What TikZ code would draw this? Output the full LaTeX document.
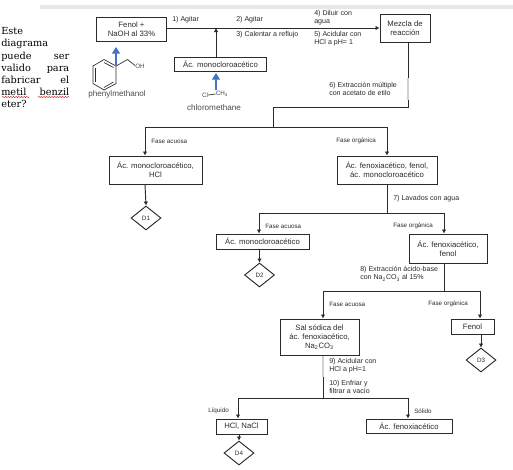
\documentclass[tikz,border=0pt]{standalone}
\usepackage{fontspec}
\setmainfont{Liberation Sans}
\newfontfamily\slabfont{DejaVu Serif}
\usetikzlibrary{arrows.meta,shapes.geometric,decorations.pathmorphing,calc}
\definecolor{ink}{HTML}{2B2B2B}
\definecolor{bluearrow}{HTML}{4472C4}
\newcommand{\boxfont}{\fontsize{5.8}{6.8}\selectfont}
\newcommand{\labfont}{\fontsize{5.3}{6.1}\selectfont}
\newcommand{\tinyfont}{\fontsize{4.7}{5.5}\selectfont}
\newcommand{\chemfont}{\fontsize{6.1}{7}\selectfont}
\tikzset{
  x=0.75pt,y=-0.75pt,
  procbox/.style={draw=ink,line width=0.75pt,fill=white,text=ink,font=\boxfont,align=center,inner sep=0pt},
  dia/.style={draw=ink,line width=0.7pt,fill=white,text=ink,font=\tinyfont,diamond,aspect=1.25,inner sep=0pt,minimum width=22.5pt,minimum height=18pt},
  lab/.style={anchor=west,align=left,inner sep=0pt,text=ink,font=\labfont},
  tinylab/.style={anchor=west,align=left,inner sep=0pt,text=ink,font=\tinyfont},
  chem/.style={anchor=center,inner sep=0pt,text=ink!85,font=\chemfont},
  wire/.style={draw=ink,line width=0.7pt},
  faded/.style={draw=black!18,line width=0.8pt},
  arr/.style={wire,-{Latex[length=3pt,width=3.4pt]}},
  bluearr/.style={draw=bluearrow,line width=1pt,-{Triangle[length=5pt,width=6pt]}},
  bond/.style={draw=ink,line width=0.5pt},
  wavy/.style={draw=red!80!black,line width=0.3pt,decorate,decoration={snake,amplitude=0.4pt,segment length=2pt}}
}
\begin{document}
\begin{tikzpicture}
\useasboundingbox (0,0) rectangle (513,469);
\fill[white] (0,0) rectangle (513,469);
% scan shadow at the top
\fill[black!9] (40,5) rectangle (513,9);
% boxes
\node[procbox,minimum width=53pt,minimum height=18pt] (fenol) at (131.5,29) {Fenol +\\NaOH al 33\%};
\node[procbox,minimum width=37.5pt,minimum height=21pt] (mezcla) at (405,28) {Mezcla de\\reacción};
\node[procbox,minimum width=69pt,minimum height=10.5pt] (acmono) at (220.5,64) {Ác. monocloroacético};
\node[procbox,minimum width=69.75pt,minimum height=21pt] (acl) at (155.5,170) {Ác. monocloroacético,\\HCl};
\node[procbox,minimum width=75pt,minimum height=21pt] (acr) at (387,170) {Ác. fenoxiacético, fenol,\\ác. monocloroacético};
\node[dia] (d1) at (146,218) {D1};
\node[procbox,minimum width=69.75pt,minimum height=11.25pt] (acm2) at (262.5,241.5) {Ác. monocloroacético};
\node[dia] (d2) at (259.5,275) {D2};
\node[procbox,minimum width=58.5pt,minimum height=21.75pt] (acf) at (448,248.5) {Ác. fenoxiacético,\\fenol};
\node[procbox,minimum width=59.25pt,minimum height=27pt] (sal) at (319.5,337) {Sal sódica del\\ác. fenoxiacético,\\Na\textsubscript{2}CO\textsubscript{3}};
\node[procbox,minimum width=32.25pt,minimum height=11.25pt] (fenolb) at (472.5,326.5) {Fenol};
\node[dia] (d3) at (481,360) {D3};
\node[procbox,minimum width=38.25pt,minimum height=11.25pt] (hcl) at (241.5,426.5) {HCl, NaCl};
\node[procbox,minimum width=64.5pt,minimum height=10.5pt] (acfx) at (409,426) {Ác. fenoxiacético};
\node[dia] (d4) at (239,453) {D4};
% junctions
\coordinate (j1) at (216,28);
\coordinate (a1) at (408,107);
\coordinate (a2) at (273,107);
\coordinate (a3) at (273,127);
\coordinate (b1) at (145,127);
\coordinate (b2) at (387,127);
\coordinate (c0) at (387,213);
\coordinate (c1) at (259,213);
\coordinate (c2) at (444,213);
\coordinate (e0) at (444,291);
\coordinate (e1) at (323,291);
\coordinate (e2) at (480,291);
\coordinate (f0) at (323,398);
\coordinate (f1) at (238,398);
\coordinate (f2) at (408,398);
% connectors
\draw[arr] (fenol.east |- j1) -- (mezcla.west |- j1);
\draw[arr] (acmono.north -| j1) -- (j1);
\draw[wire] (mezcla.south -| a1) -- (a1) -- (a2) -- (a3);
\draw[faded] (408,78) -- (408,100);
\draw[wire] (b1) -- (b2);
\draw[arr] (b1) -- (acl.north -| b1);
\draw[arr] (b2) -- (acr.north -| b2);
\draw[arr] (acl.south -| b1) -- (d1.north);
\draw[wire] (acr.south) -- (c0);
\draw[wire] (c1) -- (c2);
\draw[arr] (c1) -- (acm2.north -| c1);
\draw[arr] (c2) -- (acf.north -| c2);
\draw[arr] (acm2.south -| d2) -- (d2.north);
\draw[wire] (acf.south -| e0) -- (e0);
\draw[wire] (e1) -- (e2);
\draw[arr] (e1) -- (sal.north -| e1);
\draw[arr] (e2) -- (fenolb.north -| e2);
\draw[arr] (fenolb.south -| d3) -- (d3.north);
\draw[wire] (sal.south -| f0) -- (f0);
\draw[faded] (323,356) -- (323,377);
\draw[wire] (f1) -- (f2);
\draw[arr] (f1) -- (hcl.north -| f1);
\draw[arr] (f2) -- (acfx.north -| f2);
\draw[arr] (hcl.south -| d4) -- (d4.north);
% step labels
\node[lab] (l1) at (172,20) {1) Agitar};
\node[lab] (l2) at (236,20) {2) Agitar};
\node[lab] (l3) at (236,35) {3) Calentar a reflujo};
\node[lab] (l4) at (314,18) {4) Diluir con\\agua};
\node[lab] (l5) at (314,39) {5) Acidular con\\HCl a pH= 1};
\node[lab] (l6) at (329,89) {6) Extracción múltiple\\con acetato de etilo};
\node[lab] (l7) at (393,199) {7) Lavados con agua};
\node[lab] (l8) at (360,274) {8) Extracción ácido-base\\con Na\textsubscript{2}CO\textsubscript{3} al 15\%};
\node[lab] (l9) at (329,366) {9) Acidular con\\HCl a pH=1};
\node[lab] (l10) at (329,387) {10) Enfriar y\\filtrar a vacío};
\node[tinylab] (p1) at (151,141) {Fase acuosa};
\node[tinylab] (p2) at (336,141) {Fase orgánica};
\node[tinylab] (p3) at (265,226) {Fase acuosa};
\node[tinylab] (p4) at (393,226) {Fase orgánica};
\node[tinylab] (p5) at (329,304) {Fase acuosa};
\node[tinylab] (p6) at (428,304) {Fase orgánica};
\node[tinylab] (p7) at (208,411) {Líquido};
\node[tinylab] (p8) at (414,411) {Sólido};
% note at the left
\node[anchor=north west,inner sep=0pt,text width=51pt,align=left,text=black,font={\slabfont\fontsize{7.3}{9.05}\selectfont}] (note) at (1,27.5)
 {Este\\diagrama\\puede\hfill ser\\valido\hfill para\\fabricar\hfill el\\metil\hfill benzil\\eter?};
\draw[wavy] (2,97) -- (29,97);
\draw[wavy] (38,97) -- (69,97);
% phenylmethanol
\coordinate (h1) at (104,59.5);
\coordinate (h2) at (116,66);
\coordinate (h3) at (116,83.5);
\coordinate (h4) at (104,90);
\coordinate (h5) at (93,83.5);
\coordinate (h6) at (93,66);
\coordinate (ch2) at (127.5,59.5);
\coordinate (oh) at (135,65.5);
\draw[bond] (h1) -- (h2) -- (h3) -- (h4) -- (h5) -- (h6) -- cycle;
\draw[bond] (104,62.5) -- (113.5,67.5);
\draw[bond] (113.5,82) -- (104,87.5);
\draw[bond] (95.5,81.5) -- (95.5,68);
\draw[bond] (h2) -- (ch2) -- (oh);
\node[chem,font=\tinyfont] (ohl) at (140,66) {OH};
\node[chem] (pm) at (117,94) {phenylmethanol};
% chloromethane
\node[chem,font=\tinyfont] (cl) at (205,95) {Cl};
\node[chem,font=\tinyfont] (ch3) at (222,94) {CH\textsubscript{3}};
\draw[bond] (cl.east) -- (ch3.west);
\node[chem] (cm) at (214,107.5) {chloromethane};
% blue arrows
\coordinate (bt1) at (116,47);
\coordinate (bt2) at (216,73);
\draw[bluearr] (h2) -- (bt1);
\draw[bluearr] (216,90) -- (bt2);
\end{tikzpicture}
\end{document}
